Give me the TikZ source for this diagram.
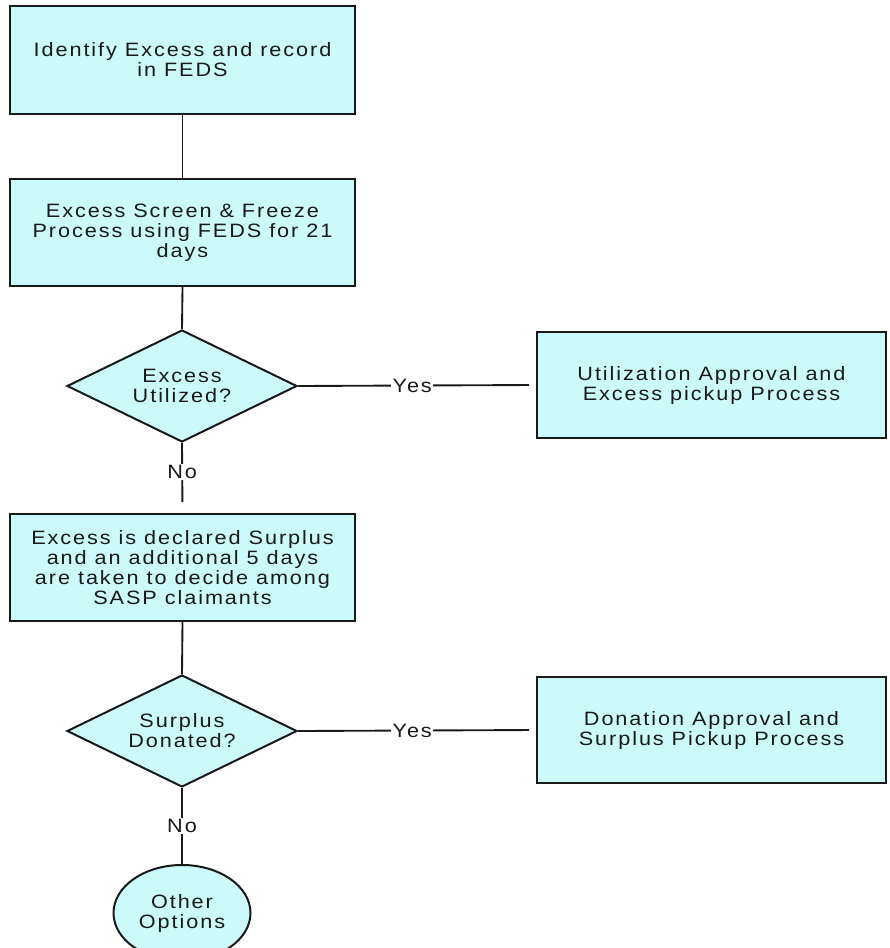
\documentclass[tikz,border=0pt]{standalone}
\usepackage{fontspec}
\setmainfont{Liberation Sans}[FakeStretch=1.12, LetterSpace=10]
\usetikzlibrary{shapes.geometric}

\definecolor{boxfill}{RGB}{204,250,250}
\definecolor{ink}{RGB}{25,25,25}

\tikzset{
  base/.style={draw=ink, line width=1.5pt, fill=boxfill, text=ink,
    align=center, inner sep=0pt,
    font=\fontsize{14.5pt}{15pt}\selectfont},
  procbox/.style={base, rectangle, minimum width=258.75pt, minimum height=80.25pt},
  sidebox/.style={base, rectangle, minimum width=261.75pt, minimum height=79.5pt},
  decision/.style={base, diamond, aspect=2.05, minimum width=172.5pt, minimum height=84pt},
  terminal/.style={base, ellipse, minimum width=102.75pt, minimum height=72pt},
  link/.style={draw=ink, line width=1.4pt},
  lab/.style={fill=white, text=ink, inner sep=1pt,
    font=\fontsize{14.5pt}{15pt}\selectfont}
}

\begin{document}
\begin{tikzpicture}[x=0.75pt, y=-0.75pt]
  \useasboundingbox (0,0) rectangle (889,948);

  % main column
  \node[procbox, minimum height=81pt] (b1) at (182.5,60) {Identify Excess and record\\in FEDS};
  \node[procbox] (b2) at (182.5,232.5) {Excess Screen \& Freeze\\Process using FEDS for 21\\days};
  \node[decision] (d1) at (182,386) {Excess\\Utilized?};
  \node[procbox] (b3) at (182.5,567.5) {Excess is declared Surplus\\and an additional 5 days\\are taken to decide among\\SASP claimants};
  \node[decision] (d2) at (182,731) {Surplus\\Donated?};
  \node[terminal] (t1) at (182,913) {Other\\Options};

  % side processes
  \node[sidebox] (r1) at (711.5,385) {Utilization Approval and\\Excess pickup Process};
  \node[sidebox] (r2) at (711.5,730) {Donation Approval and\\Surplus Pickup Process};

  % connectors
  \draw[link] (b1.south) -- (b2.north);
  \draw[link] (b2.south) -- (d1.north);
  \draw[link, shorten >=5.25pt] (d1.east) -- node[lab, pos=0.48] {Yes} (r1.west);
  \draw[link, shorten >=8.25pt] (d1.south) -- node[lab, pos=0.42] {No} (b3.north);
  \draw[link] (b3.south) -- (d2.north);
  \draw[link, shorten >=5.25pt] (d2.east) -- node[lab, pos=0.48] {Yes} (r2.west);
  \draw[link] (d2.south) -- node[lab, pos=0.5] {No} (t1.north);
\end{tikzpicture}
\end{document}
